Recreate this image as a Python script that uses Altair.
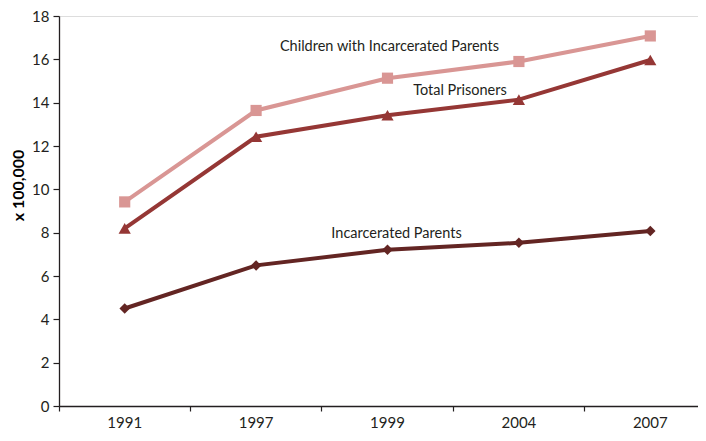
import altair as alt
import pandas as pd

years = ["1991", "1997", "1999", "2004", "2007"]
children = [9.42, 13.64, 15.13, 15.9, 17.08]
total = [8.2, 12.43, 13.42, 14.14, 15.97]
parents = [4.5, 6.49, 7.21, 7.53, 8.08]

series_names = ["Children with Incarcerated Parents", "Total Prisoners", "Incarcerated Parents"]
series_values = [children, total, parents]
series_colors = ["#D99694", "#953735", "#632523"]
series_shapes = ["square", "triangle-up", "diamond"]
series_sizes = [125, 150, 110]

rows = []
for name, vals in zip(series_names, series_values):
    for y, v in zip(years, vals):
        rows.append({"year": y, "value": v, "series": name})
df = pd.DataFrame(rows)

FONT = "Lato"
TXT = "#231F20"

xscale = alt.Scale(type="band", domain=years, range=[0, 657], paddingInner=0, paddingOuter=0)
yscale = alt.Scale(domain=[0, 18])
color = alt.Color("series:N", scale=alt.Scale(domain=series_names, range=series_colors), legend=None)

x_enc = alt.X("year:N", scale=xscale, sort=years,
              axis=alt.Axis(title=None, bandPosition=0, tickSize=5, labelPadding=4,
                            labelFontSize=15, labelFont=FONT, labelColor=TXT,
                            domainColor=TXT, tickColor=TXT, domainWidth=1.3, tickWidth=1.2,
                            labelAngle=0))
y_enc = alt.Y("value:Q", scale=yscale,
              axis=alt.Axis(title="x 100,000", values=list(range(0, 19, 2)), grid=False,
                            tickSize=6, labelPadding=4, labelFontSize=15, labelFont=FONT,
                            labelColor=TXT, domainColor=TXT, tickColor=TXT, domainWidth=1.3,
                            tickWidth=1.2, titleFont=FONT, titleFontSize=16, titleFontWeight="bold",
                            titleColor="#000000", titleX=-41, titleY=169, titleAngle=270,
                            titleAlign="center", titleBaseline="middle"))

base = alt.Chart(df)
lines = base.mark_line(strokeWidth=4).encode(x=x_enc, y=y_enc, color=color)

layers = [lines]
for name, shape, size in zip(series_names, series_shapes, series_sizes):
    layers.append(
        base.transform_filter(alt.datum.series == name)
        .mark_point(shape=shape, size=size, filled=True, opacity=1)
        .encode(x=alt.X("year:N", scale=xscale, sort=years),
                y=alt.Y("value:Q", scale=yscale), color=color)
    )

label_anchor_year = ["1999", "2004", "1999"]
label_dx = [2, -59, 9]
label_dy = [-31, -9, -16]
for name, ay, dx, dy in zip(series_names, label_anchor_year, label_dx, label_dy):
    layers.append(
        base.transform_filter((alt.datum.series == name) & (alt.datum.year == ay))
        .mark_text(font=FONT, fontSize=14.5, color=TXT, dx=dx, dy=dy, baseline="middle", align="center")
        .encode(x=alt.X("year:N", scale=xscale, sort=years),
                y=alt.Y("value:Q", scale=yscale), text="series:N")
    )

chart = alt.layer(*layers).properties(
    width=639, height=390,
    autosize=alt.AutoSizeParams(type="none"),
    padding={"left": 51, "top": 8, "right": 0, "bottom": 24},
).configure_view(stroke=None).configure(background="white")

chart.save("out.html", embed_options={"renderer": "svg", "actions": False})
